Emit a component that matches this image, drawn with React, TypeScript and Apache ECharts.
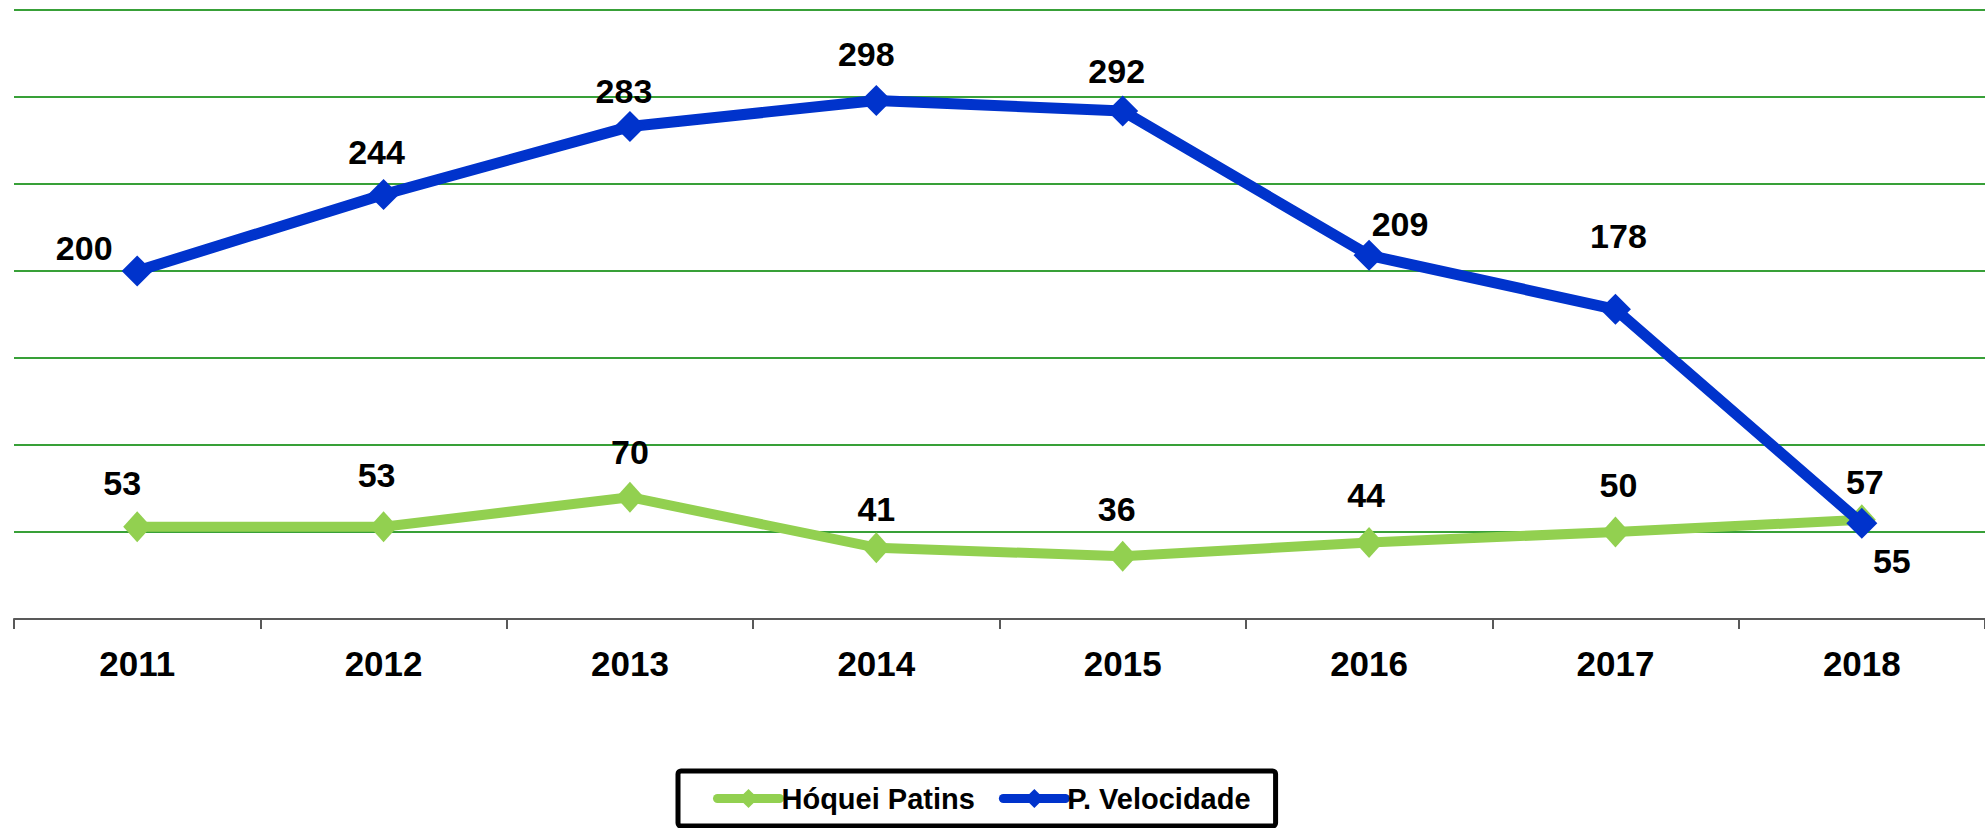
import React, { useEffect, useRef } from "react";
import * as echarts from "echarts";

const years = ["2011", "2012", "2013", "2014", "2015", "2016", "2017", "2018"];
const hoqueiPatins = [53, 53, 70, 41, 36, 44, 50, 57];
const pVelocidade = [200, 244, 283, 298, 292, 209, 178, 55];
const seriesNames = ["Hóquei Patins", "P. Velocidade"];

// label offsets (style only) relative to each point
const greenLabelOffsets = [[-15, -44], [-7, -52], [0, -45], [0, -39], [-6, -47], [-3, -47], [3, -47], [3, -38]];
const blueLabelOffsets = [[-53, -23], [-7, -42], [-6, -36], [-10, -46], [-6, -40], [31, -31], [3, -73], [30, 38]];

const FONT = '"Liberation Sans", Arial, sans-serif';

export default function App() {
  const ref = useRef<HTMLDivElement>(null);
  useEffect(() => {
    if (!ref.current) return;
    const chart = echarts.init(ref.current, null, { renderer: "svg" });
    const mkData = (vals: number[], offs: number[][]) =>
      vals.map((v, i) => ({ value: v, label: { offset: offs[i] } }));
    const labelBase = {
      show: true,
      position: "inside",
      color: "#000",
      fontFamily: FONT,
      fontWeight: "bold",
      fontSize: 34,
    };
    chart.setOption({
      animation: false,
      backgroundColor: "#fff",
      grid: { left: 14, right: -5, top: 10, bottom: 209, containLabel: false },
      legend: {
        left: 678,
        top: 771,
        orient: "horizontal",
        data: seriesNames,
        itemWidth: 62,
        itemHeight: 24,
        itemGap: 24,
        padding: [13, 25, 13, 35],
        borderColor: "#000",
        borderWidth: 5,
        borderRadius: 3,
        lineStyle: { width: 9, cap: "round" },
        textStyle: { fontFamily: FONT, fontWeight: "bold", fontSize: 29, color: "#000", padding: [0, 0, 0, -3] },
      },
      xAxis: {
        type: "category",
        data: years,
        boundaryGap: true,
        axisLine: { show: true, lineStyle: { color: "#595959", width: 2 } },
        axisTick: { show: true, length: 10, lineStyle: { color: "#595959", width: 2 } },
        axisLabel: { fontFamily: FONT, fontWeight: "bold", fontSize: 35, color: "#000", margin: 27 },
        splitLine: { show: false },
      },
      yAxis: {
        type: "value",
        min: 0,
        max: 350,
        interval: 50,
        axisLabel: { show: false },
        axisLine: { show: false },
        axisTick: { show: false },
        splitLine: { show: true, lineStyle: { color: "#38A038", width: 2 } },
      },
      series: [
        {
          name: seriesNames[0],
          type: "line",
          data: mkData(hoqueiPatins, greenLabelOffsets),
          symbol: "diamond",
          symbolSize: [28, 31],
          lineStyle: { color: "#92D050", width: 10, cap: "round" },
          itemStyle: { color: "#92D050" },
          label: labelBase,
          z: 2,
        },
        {
          name: seriesNames[1],
          type: "line",
          data: mkData(pVelocidade, blueLabelOffsets),
          symbol: "diamond",
          symbolSize: 31,
          lineStyle: { color: "#0033CC", width: 11, cap: "round" },
          itemStyle: { color: "#0033CC" },
          label: labelBase,
          z: 3,
        },
      ],
    });
    return () => chart.dispose();
  }, []);
  return (
    <div
      ref={ref}
      style={{ position: "fixed", left: 0, top: 0, width: 1985, height: 828, background: "#fff" }}
    />
  );
}
